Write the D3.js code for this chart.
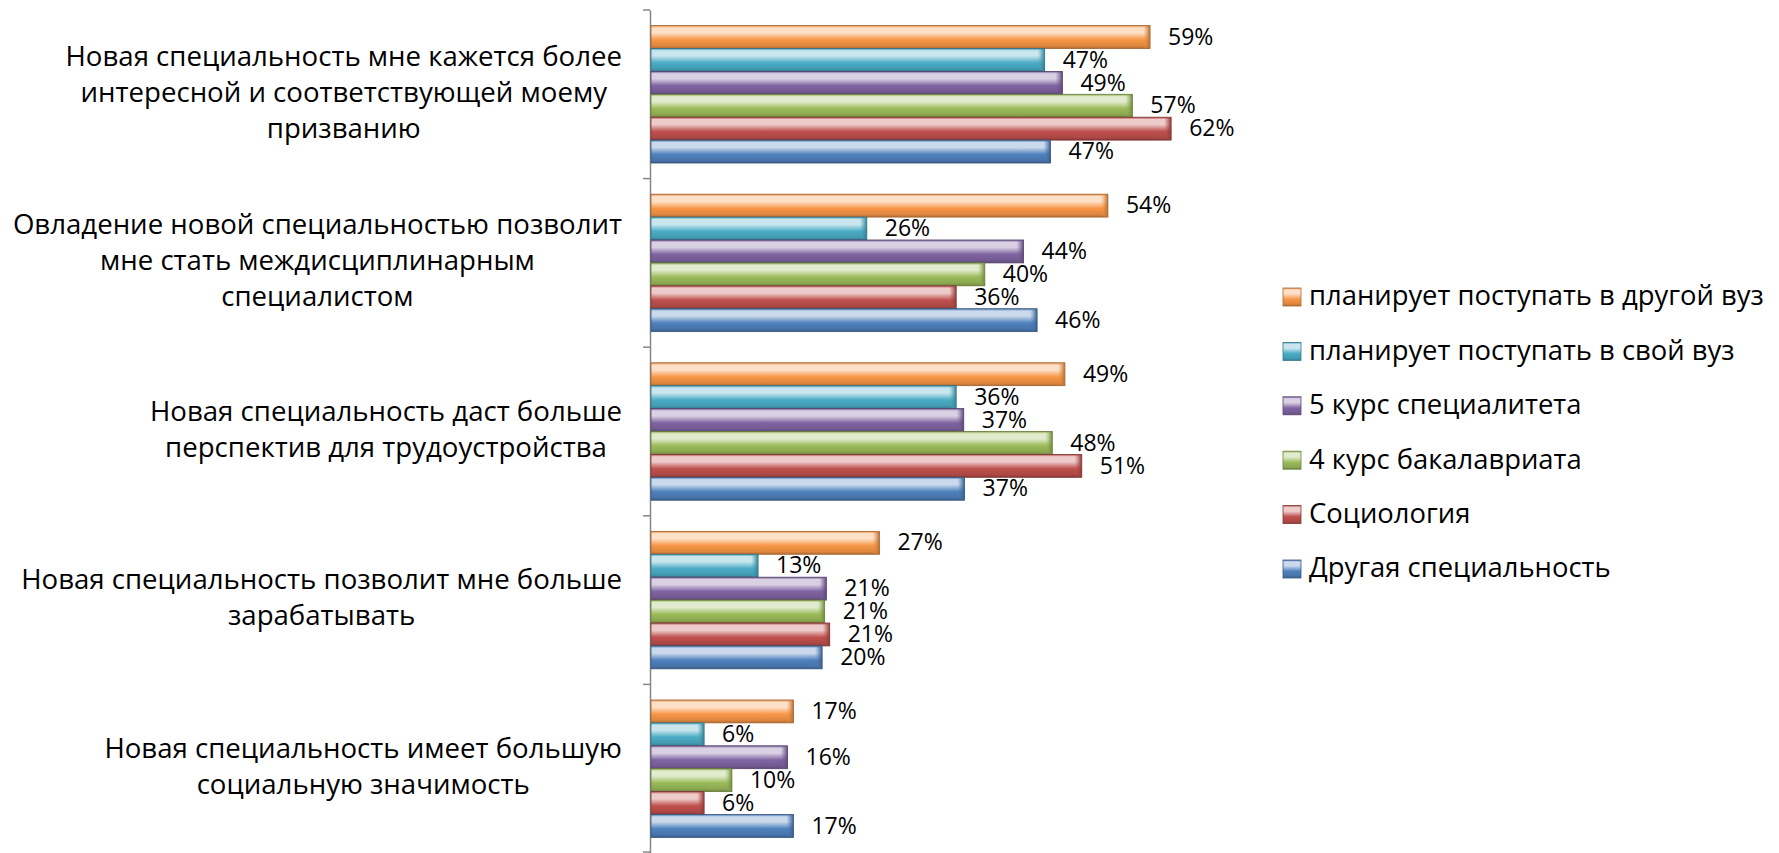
<!DOCTYPE html>
<html>
<head>
<meta charset="UTF-8">
<title>Причины выбора новой специальности</title>
<script src="https://cdn.jsdelivr.net/npm/d3@7"></script>
<style>
    body { margin: 0; background: #fff; }
    svg text { font-family: "Open Sans", sans-serif; fill: #000; }
</style>
</head>
<body>
<div id="chart"></div>
<script>
// categories (each one already wrapped into lines, like in the original)
var categories = [
    ["Новая специальность мне кажется более", "интересной и соответствующей моему", "призванию"],
    ["Овладение новой специальностью позволит", "мне стать междисциплинарным", "специалистом"],
    ["Новая специальность даст больше", "перспектив для трудоустройства"],
    ["Новая специальность позволит мне больше", "зарабатывать"],
    ["Новая специальность имеет большую", "социальную значимость"]
];

// series names, top to bottom inside each group
var seriesNames = [
    "планирует поступать в другой вуз",
    "планирует поступать в свой вуз",
    "5 курс специалитета",
    "4 курс бакалавриата",
    "Социология",
    "Другая специальность"
];

// values in % (bar lengths, labels show them rounded)
var otherUni   = [59.2, 54.2, 49.1, 27.1, 16.9];
var ownUni     = [46.7, 25.6, 36.2, 12.7, 6.3];
var spec5      = [48.8, 44.2, 37.1, 20.8, 16.2];
var bach4      = [57.1, 39.6, 47.6, 20.6, 9.6];
var sociology  = [61.7, 36.2, 51.1, 21.2, 6.3];
var otherSpec  = [47.4, 45.8, 37.2, 20.3, 16.9];

var seriesValues = [otherUni, ownUni, spec5, bach4, sociology, otherSpec];

// excel-ish theme colours
var colors = ["#F79646", "#4BACC6", "#8064A2", "#9BBB59", "#C0504D", "#4F81BD"];

var W = 1779, H = 853;
var axisX = 651;

var svg = d3.select("#chart").append("svg")
    .attr("width", W)
    .attr("height", H);

// gradients for the bevelled bars
var defs = svg.append("defs");
colors.forEach(function(c, i) {
    var base = d3.rgb(c);
    var light = d3.interpolateRgb(c, "#ffffff")(0.7);
    var dark = base.darker(0.9);
    var g = defs.append("linearGradient")
        .attr("id", "grad" + i)
        .attr("x1", 0).attr("y1", 0).attr("x2", 0).attr("y2", 1);
    g.append("stop").attr("offset", "0%").attr("stop-color", base.darker(0.2));
    g.append("stop").attr("offset", "10%").attr("stop-color", light);
    g.append("stop").attr("offset", "32%").attr("stop-color", light);
    g.append("stop").attr("offset", "62%").attr("stop-color", c);
    g.append("stop").attr("offset", "88%").attr("stop-color", base.darker(0.3));
    g.append("stop").attr("offset", "100%").attr("stop-color", dark);

    var e = defs.append("linearGradient")
        .attr("id", "end" + i)
        .attr("x1", 0).attr("y1", 0).attr("x2", 1).attr("y2", 0);
    e.append("stop").attr("offset", "0%").attr("stop-color", c).attr("stop-opacity", 0);
    e.append("stop").attr("offset", "100%").attr("stop-color", dark);
});

// scales
var x = d3.scaleLinear()
    .domain([0, 70])
    .range([axisX, axisX + 70 * 8.43]);

var y0 = d3.scaleBand()
    .domain(d3.range(categories.length))
    .range([10, H])
    .padding(0);

var y1 = d3.scaleBand()
    .domain(d3.range(seriesNames.length))
    .range([0, y0.bandwidth()])
    .paddingInner(0)
    .paddingOuter(0.68);

// axis line (no labels), ticks between categories
var yAxis = svg.append("g")
    .attr("transform", "translate(" + (axisX - 1) + ",0)")
    .call(d3.axisLeft(y0).tickSize(0).tickFormat(""));
yAxis.select(".domain").attr("stroke", "#868686").attr("stroke-width", 1.5);

var tickPos = categories.map(function(d, i) { return y0(i); }).concat([H - 1]);
svg.append("g").selectAll("line")
    .data(tickPos)
    .enter().append("line")
    .attr("x1", axisX - 8)
    .attr("x2", axisX - 1)
    .attr("y1", function(d) { return d; })
    .attr("y2", function(d) { return d; })
    .attr("stroke", "#868686")
    .attr("stroke-width", 1.5);

// bars
var groups = svg.append("g").selectAll("g")
    .data(categories)
    .enter().append("g")
    .attr("transform", function(d, i) { return "translate(0," + y0(i) + ")"; });

groups.each(function(cat, ci) {
    var g = d3.select(this);
    seriesValues.forEach(function(vals, si) {
        var v = vals[ci];
        var by = y1(si), bh = y1.bandwidth();
        var x0 = x(0), x1 = x(v);
        g.append("rect")
            .attr("x", x0)
            .attr("y", by)
            .attr("width", x1 - x0)
            .attr("height", bh)
            .attr("fill", "url(#grad" + si + ")")
            .attr("stroke", d3.rgb(colors[si]).darker(1.2))
            .attr("stroke-width", 0.8);
        // right end bevel
        g.append("rect")
            .attr("x", x1 - 7)
            .attr("y", by + 0.5)
            .attr("width", 7)
            .attr("height", bh - 1)
            .attr("fill", "url(#end" + si + ")");
        g.append("text")
            .attr("x", x1 + 18)
            .attr("y", by + bh / 2 + 1.5)
            .attr("dominant-baseline", "middle")
            .style("font-size", "23px")
            .text(Math.round(v) + "%");
    });
});

// category labels: block right edge at 622, lines centred in the block
var labelRight = 622, lineH = 36;
categories.forEach(function(lines, ci) {
    var t = svg.append("g");
    var cy = y0(ci) + y0.bandwidth() / 2;
    var texts = t.selectAll("text")
        .data(lines)
        .enter().append("text")
        .attr("y", function(d, i) { return cy + (i - (lines.length - 1) / 2) * lineH; })
        .attr("dominant-baseline", "middle")
        .attr("text-anchor", "middle")
        .style("font-size", "27.6px")
        .text(function(d) { return d; });
    var maxW = 0;
    texts.each(function() { maxW = Math.max(maxW, this.getComputedTextLength()); });
    texts.attr("x", labelRight - maxW / 2);
});

// legend
var legend = svg.append("g").attr("transform", "translate(1283,297)");
var items = legend.selectAll("g")
    .data(seriesNames)
    .enter().append("g")
    .attr("transform", function(d, i) { return "translate(0," + (i * 54.4) + ")"; });
items.append("rect")
    .attr("x", 0)
    .attr("y", -9)
    .attr("width", 18)
    .attr("height", 18)
    .attr("fill", function(d, i) { return "url(#grad" + i + ")"; })
    .attr("stroke", function(d, i) { return d3.rgb(colors[i]).darker(1); })
    .attr("stroke-width", 0.8);
items.append("text")
    .attr("x", 26)
    .attr("y", 1)
    .attr("dominant-baseline", "middle")
    .style("font-size", "27.4px")
    .text(function(d) { return d; });
</script>
</body>
</html>
